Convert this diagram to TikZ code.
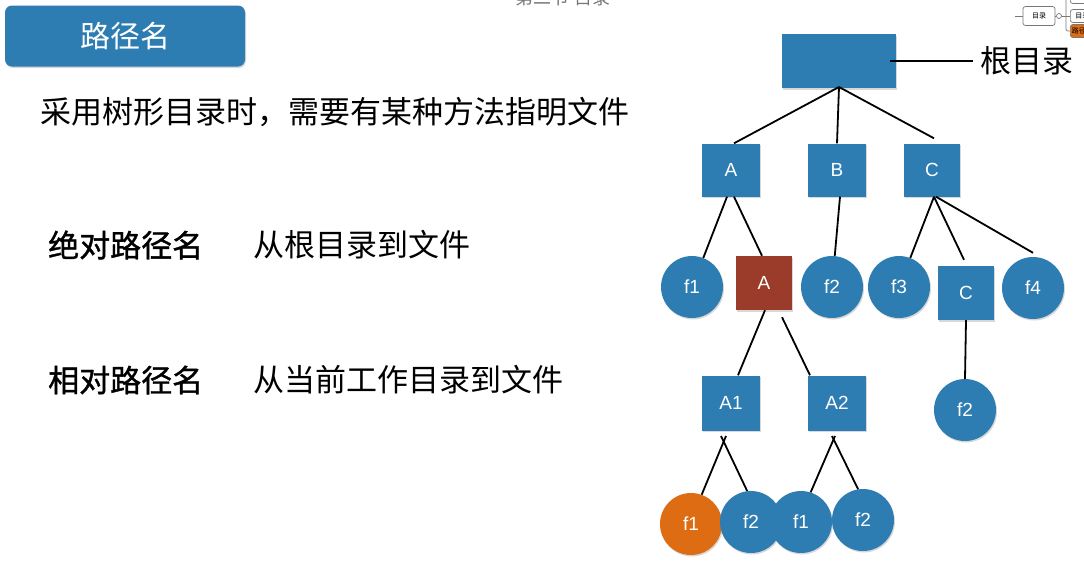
\documentclass[tikz,border=0pt]{standalone}
\usepackage{fontspec}
\setmainfont{Liberation Sans}
\newfontfamily\cjk{Noto Sans CJK SC}
\newfontfamily\cjkmid[FakeBold=1.2]{Noto Sans CJK SC}
\usetikzlibrary{shadows}
\definecolor{nodeblue}{RGB}{46,125,178}
\definecolor{nodebrown}{RGB}{155,60,43}
\definecolor{nodeorange}{RGB}{222,108,18}
\definecolor{mapgray}{RGB}{120,120,120}
\begin{document}
\begin{tikzpicture}[x=1pt,y=-1pt,
  shade/.style={drop shadow={opacity=0.3, shadow xshift=1pt, shadow yshift=-1.5pt}},
  dirbox/.style={rectangle, fill=nodeblue, minimum width=58pt, minimum height=53pt,
    inner sep=0pt, text=white, font=\fontsize{19}{21}\selectfont, shade},
  filec/.style={circle, fill=nodeblue, minimum size=62pt, inner sep=0pt,
    text=white, font=\fontsize{19}{21}\selectfont, shade},
  link/.style={draw=black, line width=1.8pt},
  body/.style={anchor=west, inner sep=0pt, font=\cjk\fontsize{31}{34}\selectfont},
  lbl/.style={anchor=west, inner sep=0pt, font=\cjkmid\fontsize{31}{34}\selectfont},
  mapbox/.style={draw=mapgray, line width=0.7pt, rounded corners=2.5pt, fill=white,
    inner sep=0pt, font=\cjk\fontsize{7}{8}\selectfont}
]
\path[use as bounding box] (0,0) rectangle (1084,582);
\clip (0,0) rectangle (1084,582);
\fill[white] (0,0) rectangle (1084,582);

% header fragments
\node[text=mapgray, font=\cjk\fontsize{18}{20}\selectfont, inner sep=0pt] (hdr) at (563,-2) {第二节 目录};

% mini map
\node[mapbox, minimum width=32pt, minimum height=19pt] (mm) at (1039,16) {目录};
\coordinate (mml) at (1015,16);
\draw[mapgray, line width=0.7pt] (mml) -- (mm.west);
\node[circle, draw=mapgray, line width=0.7pt, fill=white, minimum size=5pt, inner sep=0pt] (mmc) at (1059,16) {};
\draw[mapgray, line width=0.7pt] (mm.east) -- (mmc.west);
\node[mapbox, minimum width=24pt, minimum height=13pt, anchor=west] (mb1) at (1070,-3) {目录};
\node[mapbox, minimum width=24pt, minimum height=13pt, anchor=west] (mb2) at (1070,16) {目录};
\node[mapbox, fill=nodeorange, minimum width=24pt, minimum height=13pt, anchor=west] (mb3) at (1070,31) {路径名};
\coordinate (mmj) at (1066,16);
\draw[mapgray, line width=0.7pt] (mmc.east) -- (mmj);
\draw[mapgray, line width=0.7pt, rounded corners=2pt] (mb1.west) -| (mmj) |- (mb3.west);
\draw[mapgray, line width=0.7pt] (mmj) -- (mb2.west);

% title
\node[rectangle, rounded corners=7pt, fill=nodeblue, minimum width=240pt, minimum height=61pt,
  inner sep=0pt, text=white, font=\cjk\fontsize{30}{32}\selectfont, shade] (title) at (125,36) {路径名};

% texts
\node[body] (t1) at (40,112) {采用树形目录时，需要有某种方法指明文件};
\node[lbl] (abs) at (48,245) {绝对路径名};
\node[body] (absd) at (253,245) {从根目录到文件};
\node[lbl] (rel) at (48,380) {相对路径名};
\node[body] (reld) at (253,380) {从当前工作目录到文件};

% tree nodes
\node[dirbox, minimum width=114pt, minimum height=54pt] (root) at (839,61) {};
\node[body] (rootl) at (980,61) {根目录};
\node[dirbox] (A) at (731,170) {A};
\node[dirbox] (B) at (837,170) {B};
\node[dirbox, minimum width=56pt] (C) at (932,170) {C};
\node[filec] (f1a) at (692,287) {f1};
\node[dirbox, fill=nodebrown, minimum width=56pt, minimum height=54pt] (Ab) at (764,283) {A};
\node[filec] (f2a) at (832,287) {f2};
\node[filec] (f3) at (899,287) {f3};
\node[dirbox, minimum width=56pt, minimum height=54pt] (C2) at (966,293) {C};
\node[filec] (f4) at (1033,288) {f4};
\node[dirbox, minimum height=55pt] (A1) at (731,403) {A1};
\node[dirbox, minimum height=55pt] (A2) at (837,403) {A2};
\node[filec] (f2c) at (965,410) {f2};
\node[filec, fill=nodeorange] (f1o) at (691,524) {f1};
\node[filec] (f2b) at (751,522) {f2};
\node[filec] (f1c) at (801,522) {f1};
\node[filec] (f2d) at (863,520) {f2};

% connectors
\coordinate (rs) at (839,87);
\coordinate (rr) at (890,61);
\draw[link] (rr) -- ([xshift=-7pt]rootl.west);
\draw[link] (rs) -- ([xshift=3pt]A.north);
\draw[link] (rs) -- (B.north);
\draw[link] (rs) -- ([xshift=2pt,yshift=5pt]C.north);
\draw[link] ([xshift=-4pt]A.south) -- (f1a);
\draw[link] ([xshift=3pt]A.south) -- ([xshift=-2pt]Ab.north);
\draw[link] ([xshift=3pt]B.south) -- (f2a);
\draw[link] ([xshift=2pt]C.south) -- (f3);
\draw[link] ([xshift=2pt]C.south) -- ([xshift=-2pt,yshift=6pt]C2.north);
\draw[link] ([xshift=4pt]C.south) -- ([yshift=4pt]f4.north);
\draw[link] ([xshift=1pt]Ab.south) -- ([xshift=7pt]A1.north);
\draw[link] ([xshift=18pt,yshift=-7pt]Ab.south) -- ([xshift=-27pt]A2.north);
\draw[link] (C2.south) -- (f2c.north);
\coordinate (j1a) at (726,436);
\coordinate (j1b) at (721,436);
\coordinate (j2a) at (835,436);
\coordinate (j2b) at (832,436);
\draw[link] (j1a) -- (f1o.70);
\draw[link] (j1b) -- (f2b.97);
\draw[link] (j2a) -- (f1c.72);
\draw[link] (j2b) -- (f2d.99);
\end{tikzpicture}
\end{document}
